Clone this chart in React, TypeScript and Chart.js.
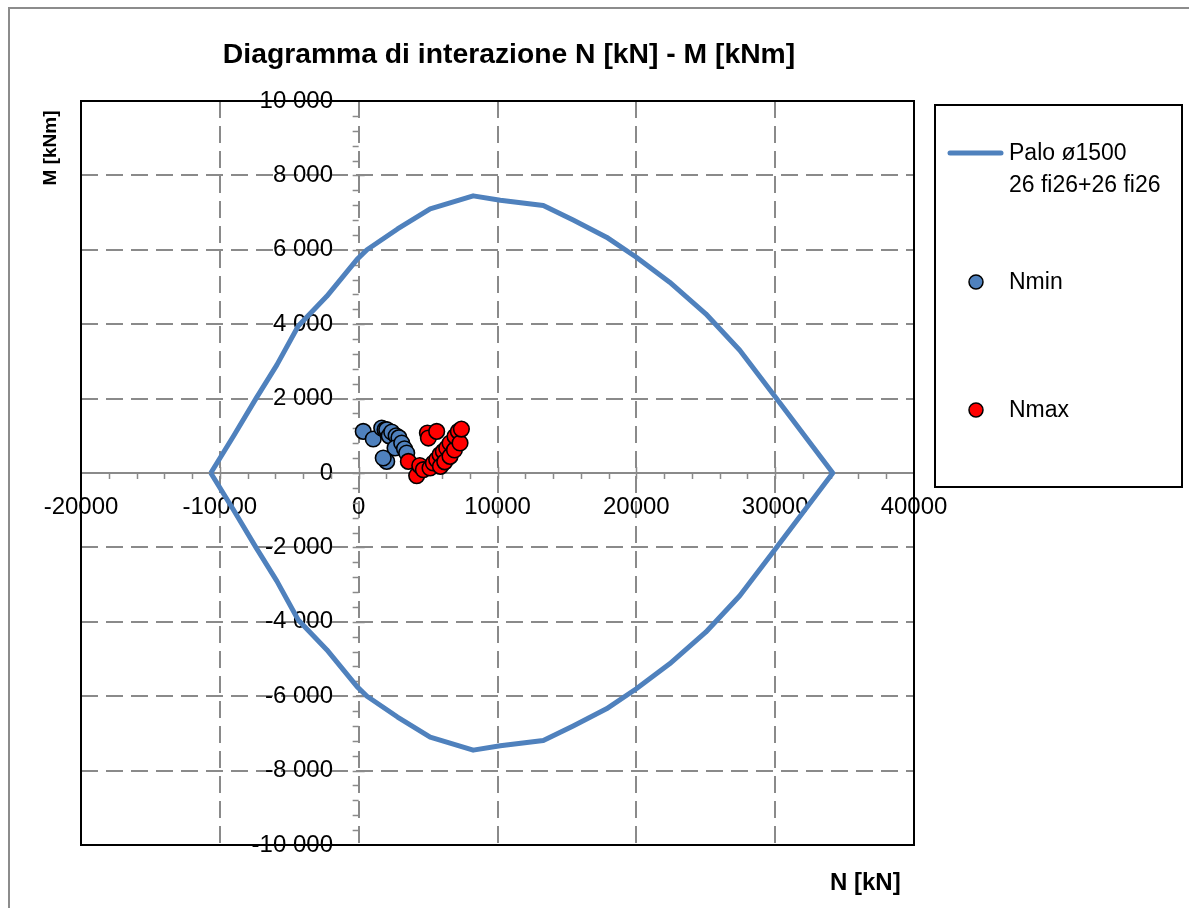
import { useEffect, useRef } from 'react';
import { Chart, registerables } from 'chart.js';

Chart.register(...registerables);

// ---- text ----
const TITLE = 'Diagramma di interazione N [kN] - M [kNm]';
const X_TITLE = 'N [kN]';
const Y_TITLE = 'M [kNm]';
const DOMAIN_LABEL = ['Palo ø1500', '26 fi26+26 fi26'];
const NMIN_LABEL = 'Nmin';
const NMAX_LABEL = 'Nmax';

// ---- axes ----
const X_TICKS = [-20000, -10000, 0, 10000, 20000, 30000, 40000];
const Y_TICKS = [-10000, -8000, -6000, -4000, -2000, 0, 2000, 4000, 6000, 8000, 10000];
const X_MINOR_STEP = 2000;
const Y_MINOR_STEP = 400;

// ---- interaction domain (upper branch, left -> right) ----
const domainUpperN = [-10650, -9000, -7400, -5900, -4350, -2300, -100, 600, 2800, 5150, 8250, 10200, 13300, 15450, 17850, 20000, 22400, 25000, 27450, 30000, 32000, 34150];
const domainUpperM = [0, 1000, 2000, 2900, 3950, 4750, 5750, 6000, 6560, 7100, 7450, 7330, 7190, 6800, 6340, 5800, 5130, 4280, 3300, 2050, 1060, 0];
// ---- interaction domain (lower branch, right -> left) ----
const domainLowerN = [32000, 30000, 27450, 25000, 22400, 20000, 17850, 15450, 13300, 10200, 8250, 5150, 2800, 600, -100, -2300, -4350, -5900, -7400, -9000, -10650];
const domainLowerM = [-1060, -2050, -3300, -4280, -5130, -5800, -6340, -6800, -7190, -7330, -7450, -7100, -6560, -6000, -5750, -4750, -3950, -2900, -2000, -1000, 0];

// ---- load points ----
const nminN = [330, 1050, 1660, 1900, 2020, 2200, 2380, 2700, 2900, 2620, 3100, 3300, 2020, 1770, 3460];
const nminM = [1118, 914, 1210, 1164, 1165, 1000, 1102, 1000, 950, 672, 806, 650, 312, 403, 538];
const nmaxN = [3580, 4180, 4400, 4660, 4950, 5020, 5140, 5380, 5620, 5860, 5890, 6100, 6200, 6340, 6580, 6580, 6900, 6940, 7180, 5620, 7300, 7400];
const nmaxM = [312, -73, 200, 89, 1075, 940, 134, 269, 358, 492, 177, 581, 300, 672, 806, 446, 620, 984, 1118, 1118, 806, 1180];

// ---- style ----
const FONT = '"Liberation Sans", Arial, sans-serif';
const BLUE = '#4F81BD';
const RED = '#FF0000';
const GRID = '#8a8a8a';

const toXY = (xs: number[], ys: number[]) => xs.map((v, i) => ({ x: v, y: ys[i] }));

const decor = {
  id: 'decor',
  beforeDatasetsDraw(chart: any) {
    const { ctx, scales } = chart;
    const xs = scales.x;
    const ys = scales.y;
    const x0 = xs.getPixelForValue(0);
    const y0 = ys.getPixelForValue(0);
    ctx.save();
    ctx.strokeStyle = GRID;
    ctx.lineWidth = 1.5;
    ctx.beginPath();
    const xmin = X_TICKS[0], xmax = X_TICKS[X_TICKS.length - 1];
    for (let v = xmin + X_MINOR_STEP; v < xmax; v += X_MINOR_STEP) {
      const px = Math.round(xs.getPixelForValue(v)) + 0.5;
      const major = X_TICKS.includes(v);
      ctx.moveTo(px, major ? y0 - 6 : y0);
      ctx.lineTo(px, y0 + 6);
    }
    const ymin = Y_TICKS[0], ymax = Y_TICKS[Y_TICKS.length - 1];
    for (let v = ymin + Y_MINOR_STEP; v < ymax; v += Y_MINOR_STEP) {
      const py = Math.round(ys.getPixelForValue(v)) + 0.5;
      const major = Y_TICKS.includes(v);
      ctx.moveTo(x0 - 6, py);
      ctx.lineTo(major ? x0 + 6 : x0, py);
    }
    ctx.stroke();
    ctx.restore();
  },
  afterDraw(chart: any) {
    const { ctx, chartArea } = chart;
    ctx.save();
    // outer frame
    ctx.strokeStyle = '#8c8c8c';
    ctx.lineWidth = 2;
    ctx.strokeRect(9, 8, 1400, 1100);
    // plot border
    ctx.strokeStyle = '#000';
    ctx.lineWidth = 2;
    ctx.strokeRect(chartArea.left, chartArea.top, chartArea.right - chartArea.left, chartArea.bottom - chartArea.top);

    // title
    ctx.fillStyle = '#000';
    ctx.font = `bold 28.3px ${FONT}`;
    ctx.textAlign = 'center';
    ctx.textBaseline = 'alphabetic';
    ctx.fillText(TITLE, 509, 63);

    // x title
    ctx.font = `bold 24px ${FONT}`;
    ctx.textAlign = 'left';
    ctx.fillText(X_TITLE, 830, 890);

    // y title
    ctx.save();
    ctx.translate(56, 148);
    ctx.rotate(-Math.PI / 2);
    ctx.font = `bold 19px ${FONT}`;
    ctx.textAlign = 'center';
    ctx.fillText(Y_TITLE, 0, 0);
    ctx.restore();

    // legend
    ctx.strokeStyle = '#000';
    ctx.lineWidth = 2;
    ctx.strokeRect(935, 105, 247, 382);
    const ds = chart.data.datasets;
    ctx.strokeStyle = ds[0].borderColor;
    ctx.lineWidth = 5;
    ctx.lineCap = 'round';
    ctx.beginPath();
    ctx.moveTo(950, 153);
    ctx.lineTo(1001, 153);
    ctx.stroke();
    ctx.fillStyle = '#000';
    ctx.font = `23px ${FONT}`;
    ctx.textAlign = 'left';
    ctx.textBaseline = 'middle';
    const lbl = ds[0].label.split('\n');
    lbl.forEach((t: string, i: number) => ctx.fillText(t, 1009, 154 + i * 32));
    const marks = [
      { d: ds[1], y: 282 },
      { d: ds[2], y: 410 },
    ];
    marks.forEach(({ d, y }) => {
      ctx.beginPath();
      ctx.arc(976, y, 7, 0, Math.PI * 2);
      ctx.fillStyle = d.backgroundColor;
      ctx.fill();
      ctx.lineWidth = 1.5;
      ctx.strokeStyle = '#000';
      ctx.stroke();
      ctx.fillStyle = '#000';
      ctx.fillText(d.label, 1009, y + 1);
    });
    ctx.restore();
  },
};

export default function App() {
  const ref = useRef<HTMLCanvasElement>(null);
  useEffect(() => {
    const domain = [...toXY(domainUpperN, domainUpperM), ...toXY(domainLowerN, domainLowerM)];
    const chart = new Chart(ref.current as HTMLCanvasElement, {
      type: 'scatter',
      data: {
        datasets: [
          {
            label: DOMAIN_LABEL.join('\n'),
            data: domain,
            showLine: true,
            borderColor: BLUE,
            backgroundColor: BLUE,
            borderWidth: 5,
            pointRadius: 0,
            tension: 0,
            borderJoinStyle: 'round',
            fill: false,
            order: 3,
          } as any,
          {
            label: NMIN_LABEL,
            data: toXY(nminN, nminM),
            backgroundColor: BLUE,
            borderColor: '#000',
            borderWidth: 1.6,
            pointRadius: 7.8,
            order: 2,
          },
          {
            label: NMAX_LABEL,
            data: toXY(nmaxN, nmaxM),
            backgroundColor: RED,
            borderColor: '#000',
            borderWidth: 1.6,
            pointRadius: 7.8,
            order: 1,
          },
        ],
      },
      options: {
        responsive: false,
        animation: false,
        events: [],
        layout: { padding: { left: 81, top: 101, right: 275, bottom: 63 } },
        plugins: {
          legend: { display: false },
          title: { display: false },
          tooltip: { enabled: false },
        },
        scales: {
          x: {
            type: 'linear',
            position: { y: 0 } as any,
            min: X_TICKS[0],
            max: X_TICKS[X_TICKS.length - 1],
            afterBuildTicks: (s: any) => { s.ticks = X_TICKS.map((v) => ({ value: v })); },
            ticks: {
              autoSkip: false,
              maxRotation: 0,
              padding: 20,
              color: '#000',
              font: { family: FONT, size: 24 },
              callback: (v: any) => String(v),
            },
            grid: { color: GRID, lineWidth: 2, drawTicks: false },
            border: { display: true, color: GRID, width: 2, dash: [17, 8] },
          },
          y: {
            type: 'linear',
            position: { x: -1850 } as any,
            min: Y_TICKS[0],
            max: Y_TICKS[Y_TICKS.length - 1],
            afterBuildTicks: (s: any) => { s.ticks = Y_TICKS.map((v) => ({ value: v })); },
            ticks: {
              autoSkip: false,
              padding: 0,
              color: '#000',
              font: { family: FONT, size: 24 },
              callback: (v: any) => {
                const n = Number(v);
                const s = Math.abs(n).toString().replace(/\B(?=(\d{3})+(?!\d))/g, ' ');
                return (n < 0 ? '-' : '') + s;
              },
            },
            grid: { color: GRID, lineWidth: 2, drawTicks: false },
            border: { display: false, dash: [17, 8] },
          },
        },
      },
      plugins: [decor],
    });
    return () => chart.destroy();
  }, []);
  return (
    <div style={{ position: 'absolute', left: 0, top: 0, width: 1189, height: 908, background: '#fff' }}>
      <canvas ref={ref} width={1189} height={908} style={{ display: 'block' }} />
    </div>
  );
}
